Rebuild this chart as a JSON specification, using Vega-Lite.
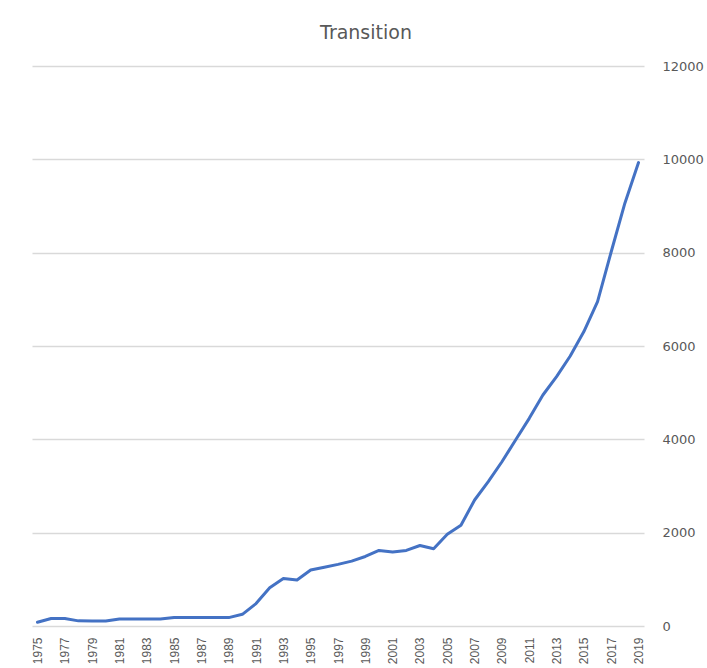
{
  "$schema": "https://vega.github.io/schema/vega-lite/v6.json",
  "width": 612,
  "height": 560,
  "padding": {"left": 31, "top": 24, "right": 5, "bottom": 5},
  "background": "white",
  "title": {
    "text": "Transition",
    "font": "DejaVu Sans",
    "fontSize": 19,
    "fontWeight": "normal",
    "color": "#595959",
    "anchor": "middle",
    "dx": 28,
    "offset": 17
  },
  "data": {
    "values": [
      {"year": 1975, "value": 80},
      {"year": 1976, "value": 160},
      {"year": 1977, "value": 160},
      {"year": 1978, "value": 110},
      {"year": 1979, "value": 105},
      {"year": 1980, "value": 105},
      {"year": 1981, "value": 150},
      {"year": 1982, "value": 150},
      {"year": 1983, "value": 150},
      {"year": 1984, "value": 150},
      {"year": 1985, "value": 180},
      {"year": 1986, "value": 180},
      {"year": 1987, "value": 180},
      {"year": 1988, "value": 180},
      {"year": 1989, "value": 180},
      {"year": 1990, "value": 250},
      {"year": 1991, "value": 480},
      {"year": 1992, "value": 820},
      {"year": 1993, "value": 1020},
      {"year": 1994, "value": 985},
      {"year": 1995, "value": 1200},
      {"year": 1996, "value": 1260},
      {"year": 1997, "value": 1320},
      {"year": 1998, "value": 1390},
      {"year": 1999, "value": 1490},
      {"year": 2000, "value": 1620},
      {"year": 2001, "value": 1585},
      {"year": 2002, "value": 1620},
      {"year": 2003, "value": 1725},
      {"year": 2004, "value": 1655},
      {"year": 2005, "value": 1965},
      {"year": 2006, "value": 2160},
      {"year": 2007, "value": 2700},
      {"year": 2008, "value": 3095},
      {"year": 2009, "value": 3520},
      {"year": 2010, "value": 3985},
      {"year": 2011, "value": 4450},
      {"year": 2012, "value": 4950},
      {"year": 2013, "value": 5345},
      {"year": 2014, "value": 5785},
      {"year": 2015, "value": 6310},
      {"year": 2016, "value": 6950},
      {"year": 2017, "value": 8020},
      {"year": 2018, "value": 9060},
      {"year": 2019, "value": 9930}
    ]
  },
  "mark": {"type": "line", "color": "#4472C4", "strokeWidth": 3, "strokeJoin": "round", "strokeCap": "round"},
  "encoding": {
    "x": {
      "field": "year",
      "type": "ordinal",
      "scale": {"type": "point", "padding": 0.4},
      "axis": {
        "title": null,
        "values": [1975, 1977, 1979, 1981, 1983, 1985, 1987, 1989, 1991, 1993, 1995, 1997, 1999, 2001, 2003, 2005, 2007, 2009, 2011, 2013, 2015, 2017, 2019],
        "labelAngle": -90,
        "labelFont": "Liberation Sans",
        "labelFontSize": 12,
        "labelColor": "#595959",
        "labelPadding": 11,
        "domain": false,
        "ticks": false,
        "grid": false
      }
    },
    "y": {
      "field": "value",
      "type": "quantitative",
      "scale": {"domain": [0, 12000], "nice": false},
      "axis": {
        "orient": "right",
        "title": null,
        "values": [0, 2000, 4000, 6000, 8000, 10000, 12000],
        "format": "d",
        "labelFont": "DejaVu Sans",
        "labelFontSize": 13,
        "labelColor": "#595959",
        "labelPadding": 18,
        "labelAlign": "left",
        "domain": false,
        "ticks": false,
        "grid": true,
        "gridColor": "#d9d9d9",
        "gridWidth": 1.5
      }
    }
  },
  "config": {"view": {"stroke": null}}
}
